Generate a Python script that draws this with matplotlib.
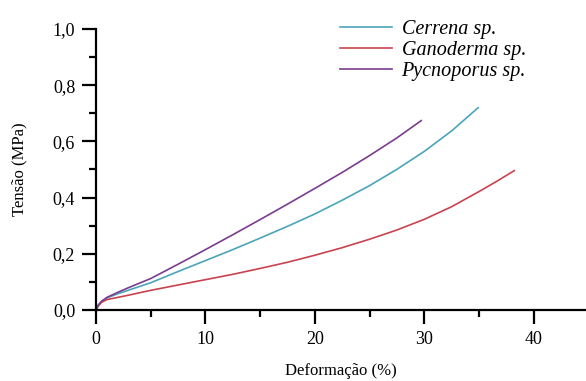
import numpy as np
import matplotlib
matplotlib.use("Agg")
import matplotlib.pyplot as plt
from matplotlib.ticker import MultipleLocator, FuncFormatter

# ---- data ----
cerrena_x = [0, 0.2, 0.5, 1.0, 2.0, 3.0, 5.0, 7.5, 10.0, 12.5, 15.0, 17.5,
             20.0, 22.5, 25.0, 27.5, 30.0, 32.5, 34.9]
cerrena_y = [0, 0.016, 0.030, 0.043, 0.058, 0.071, 0.097, 0.137, 0.176, 0.215,
             0.256, 0.298, 0.342, 0.391, 0.443, 0.501, 0.565, 0.638, 0.720]

ganoderma_x = [0, 0.2, 0.5, 1.0, 2.0, 3.0, 5.0, 7.5, 10.0, 12.5, 15.0, 17.5,
               20.0, 22.5, 25.0, 27.5, 30.0, 32.5, 35.0, 36.6, 38.2]
ganoderma_y = [0, 0.014, 0.027, 0.037, 0.045, 0.053, 0.070, 0.089, 0.108, 0.127,
               0.148, 0.170, 0.195, 0.222, 0.252, 0.285, 0.323, 0.368, 0.422,
               0.458, 0.496]

pycnoporus_x = [0, 0.2, 0.5, 1.0, 2.0, 3.0, 5.0, 7.5, 10.0, 12.5, 15.0, 17.5,
                20.0, 22.5, 25.0, 27.5, 29.7]
pycnoporus_y = [0, 0.017, 0.031, 0.045, 0.063, 0.080, 0.112, 0.163, 0.215, 0.268,
                0.322, 0.377, 0.433, 0.490, 0.550, 0.613, 0.674]

labels = ["Cerrena sp.", "Ganoderma sp.", "Pycnoporus sp."]
colors = ["#4ba4ba", "#c9434e", "#7a3d8e"]

serif = "Liberation Serif"

fig = plt.figure(figsize=(5.86, 3.81), dpi=100)
ax = fig.add_axes([96 / 586, 71 / 381, 490 / 586, 281 / 381])

series = [(cerrena_x, cerrena_y), (ganoderma_x, ganoderma_y),
          (pycnoporus_x, pycnoporus_y)]
for (x, y), lab, c in zip(series, labels, colors):
    ax.plot(x, y, color=c, lw=1.2, label=lab)

ax.set_xlim(0, 44.75)
ax.set_ylim(0, 1.0)
ax.spines["top"].set_visible(False)
ax.spines["right"].set_visible(False)
for s in ["left", "bottom"]:
    ax.spines[s].set_linewidth(1.6)

ax.xaxis.set_major_locator(MultipleLocator(10))
ax.xaxis.set_minor_locator(MultipleLocator(5))
ax.yaxis.set_major_locator(MultipleLocator(0.2))
ax.yaxis.set_minor_locator(MultipleLocator(0.1))
ax.yaxis.set_major_formatter(FuncFormatter(lambda v, p: f"{v:.1f}".replace(".", ",")))
ax.tick_params(which="major", direction="out", length=10, width=1.6,
               labelsize=13, pad=5)
ax.tick_params(which="minor", direction="out", length=5, width=1.6)
for t in ax.get_xticklabels() + ax.get_yticklabels():
    t.set_fontfamily(serif)

ax.set_xlabel("Deformação (%)", fontsize=12, family=serif, labelpad=11)
ax.set_ylabel("Tensão (MPa)", fontsize=12, family=serif, labelpad=18)

fig.legend(loc="upper left", bbox_to_anchor=(322 / 586, 1 - 2 / 381),
           frameon=False, handlelength=2.6, handletextpad=0.45,
           labelspacing=0.1,
           prop={"family": serif, "style": "italic", "size": 14.5})

fig.savefig("out.png", dpi=100)
